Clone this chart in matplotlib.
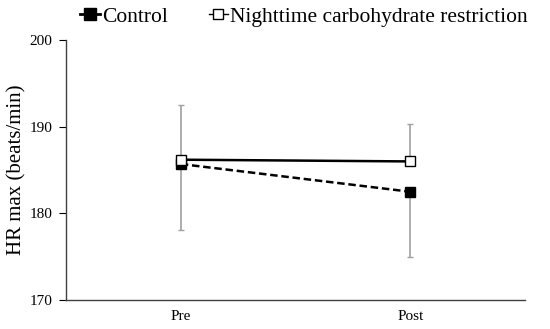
import matplotlib
matplotlib.use("Agg")
import matplotlib.pyplot as plt
from matplotlib.lines import Line2D

plt.rcParams['font.family'] = ['Liberation Serif', 'DejaVu Serif']

categories = ["Pre", "Post"]
control_mean = [185.7, 182.5]
control_err = [7.6, 7.5]      # drawn downward
ncr_mean = [186.2, 186.0]
ncr_err = [6.3, 4.3]          # drawn upward
yticks = [170, 180, 190, 200]

fig = plt.figure(figsize=(5.5, 3.29), dpi=100)
ax = fig.add_axes([0.12, 0.088, 0.835, 0.79])
x = list(range(len(categories)))

ax.errorbar(x, control_mean, yerr=[control_err, [0, 0]], fmt='none',
            ecolor='#a0a0a0', elinewidth=1.2, capsize=2.5, capthick=1, zorder=1)
ax.errorbar(x, ncr_mean, yerr=[[0, 0], ncr_err], fmt='none',
            ecolor='#a0a0a0', elinewidth=1.2, capsize=2.5, capthick=1, zorder=1)

ax.plot(x, control_mean, color='black', linestyle=(0, (3, 1.5)), linewidth=1.8,
        marker='s', markersize=7, markerfacecolor='black', markeredgecolor='black', zorder=3)
ax.plot(x, ncr_mean, color='black', linestyle='-', linewidth=1.8,
        marker='s', markersize=7, markerfacecolor='white', markeredgecolor='black',
        markeredgewidth=1, zorder=4)

ax.set_xlim(-0.5, 1.5)
ax.set_ylim(170, 200)
ax.set_yticks(yticks)
ax.set_xticks(x)
ax.set_xticklabels(categories, fontsize=11)
ax.tick_params(axis='x', length=0, pad=7)
ax.tick_params(axis='y', direction='out', length=5, labelsize=11, pad=5, width=0.8)
ax.spines['top'].set_visible(False)
ax.spines['right'].set_visible(False)
for s in ['left', 'bottom']:
    ax.spines[s].set_color('#404040')
    ax.spines[s].set_linewidth(1)
ax.set_ylabel("HR max (beats/min)", fontsize=15, labelpad=2)

handles = [
    Line2D([0], [0], color='black', linewidth=2, marker='s', markersize=8,
           markerfacecolor='black', markeredgecolor='black'),
    Line2D([0], [0], color='black', linewidth=1, marker='s', markersize=7,
           markerfacecolor='white', markeredgecolor='black'),
]
fig.legend(handles, ["Control", "Nighttime carbohydrate restriction"],
           loc='upper left', bbox_to_anchor=(0.111, 1.039), ncol=2, frameon=False,
           fontsize=15.5, handlelength=0.9, handletextpad=0.1, columnspacing=1.9)

fig.savefig("out.png", dpi=100)
